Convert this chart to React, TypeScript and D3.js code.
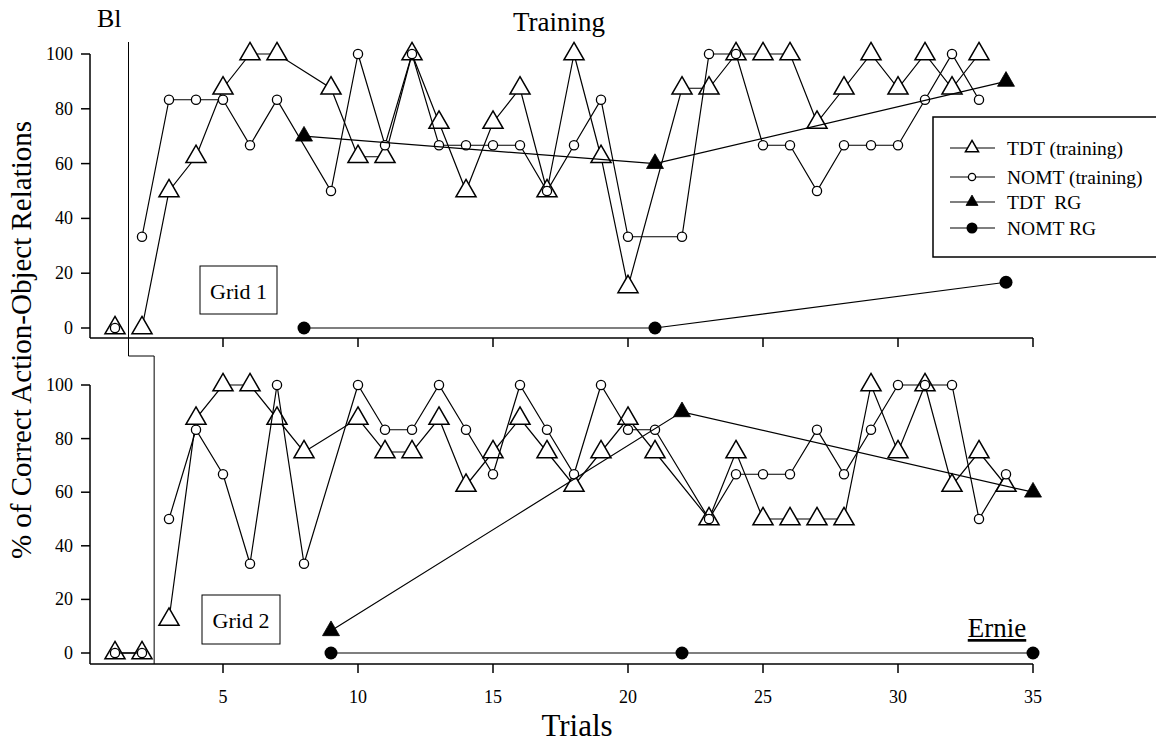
import React from "react";
import * as d3 from "d3";

// Axis ticks
const trialTicks = [5, 10, 15, 20, 25, 30, 35];
const percentTicks = [0, 20, 40, 60, 80, 100];

// Grid 1 — baseline
const grid1BaselineTrials = [1];
const grid1BaselineTDT = [0];
const grid1BaselineNOMT = [0];

// Grid 1 — training sessions
const grid1Trials = [2, 3, 4, 5, 6, 7, 9, 10, 11, 12, 13, 14, 15, 16, 17, 18, 19, 20, 22, 23, 24, 25, 26, 27, 28, 29, 30, 31, 32, 33];
const grid1TDT = [0, 50, 62.5, 87.5, 100, 100, 87.5, 62.5, 62.5, 100, 75, 50, 75, 87.5, 50, 100, 62.5, 15, 87.5, 87.5, 100, 100, 100, 75, 87.5, 100, 87.5, 100, 87.5, 100];
const grid1NOMT = [33.3, 83.3, 83.3, 83.3, 66.7, 83.3, 50, 100, 66.7, 100, 66.7, 66.7, 66.7, 66.7, 50, 66.7, 83.3, 33.3, 33.3, 100, 100, 66.7, 66.7, 50, 66.7, 66.7, 66.7, 83.3, 100, 83.3];

// Grid 1 — RG probes
const grid1ProbeTrials = [8, 21, 34];
const grid1ProbeTDT = [70, 60, 90];
const grid1ProbeNOMT = [0, 0, 16.7];

// Grid 2 — baseline
const grid2BaselineTrials = [1, 2];
const grid2BaselineTDT = [0, 0];
const grid2BaselineNOMT = [0, 0];

// Grid 2 — training sessions
const grid2Trials = [3, 4, 5, 6, 7, 8, 10, 11, 12, 13, 14, 15, 16, 17, 18, 19, 20, 21, 23, 24, 25, 26, 27, 28, 29, 30, 31, 32, 33, 34];
const grid2TDT = [12.5, 87.5, 100, 100, 87.5, 75, 87.5, 75, 75, 87.5, 62.5, 75, 87.5, 75, 62.5, 75, 87.5, 75, 50, 75, 50, 50, 50, 50, 100, 75, 100, 62.5, 75, 62.5];
const grid2NOMT = [50, 83.3, 66.7, 33.3, 100, 33.3, 100, 83.3, 83.3, 100, 83.3, 66.7, 100, 83.3, 66.7, 100, 83.3, 83.3, 50, 66.7, 66.7, 66.7, 83.3, 66.7, 83.3, 100, 100, 100, 50, 66.7];

// Grid 2 — RG probes
const grid2ProbeTrials = [9, 22, 35];
const grid2ProbeTDT = [8.3, 90, 60];
const grid2ProbeNOMT = [0, 0, 0];

// Phase-change positions (between baseline and training) for each grid
const phaseChange = [1.5, 2.45];

const legendLabels = ["TDT (training)", "NOMT (training)", "TDT  RG", "NOMT RG"];

const FONT = "'Liberation Serif', 'Times New Roman', Times, serif";
const W = 1156;
const H = 746;

const x = d3.scaleLinear().domain([0, 35]).range([88, 1033]);
const yTop = d3.scaleLinear().domain([0, 100]).range([328, 54]);
const yBottom = d3.scaleLinear().domain([0, 100]).range([653, 385]);

type MarkerKind = "openTri" | "openCircle" | "filledTri" | "filledCircle";

const triPath = d3.symbol(d3.symbolTriangle, 175)() as string;
const smallTriPath = d3.symbol(d3.symbolTriangle, 125)() as string;
const legendTriPath = d3.symbol(d3.symbolTriangle, 75)() as string;
const legendSmallTriPath = d3.symbol(d3.symbolTriangle, 62)() as string;

function Marker({ kind, cx, cy, legend = false }: { kind: MarkerKind; cx: number; cy: number; legend?: boolean }) {
  const t = `translate(${cx},${cy})`;
  if (kind === "openTri")
    return <path d={legend ? legendTriPath : triPath} transform={t} fill="#fff" stroke="#000" strokeWidth={1.5} strokeLinejoin="miter" />;
  if (kind === "filledTri")
    return <path d={legend ? legendSmallTriPath : smallTriPath} transform={t} fill="#000" stroke="#000" strokeWidth={0.8} />;
  if (kind === "openCircle")
    return <circle cx={cx} cy={cy} r={legend ? 3.6 : 4.6} fill="#fff" stroke="#000" strokeWidth={1.3} />;
  return <circle cx={cx} cy={cy} r={legend ? 5.5 : 6.5} fill="#000" />;
}

function Series({ trials, values, yScale, kind }: { trials: number[]; values: number[]; yScale: d3.ScaleLinear<number, number>; kind: MarkerKind }) {
  const pts: [number, number][] = trials.map((t, i) => [x(t), yScale(values[i])]);
  const d = d3.line()(pts) as string;
  return (
    <g>
      {pts.length > 1 && <path d={d} fill="none" stroke="#000" strokeWidth={1.2} />}
      {pts.map((p, i) => (
        <Marker key={i} kind={kind} cx={p[0]} cy={p[1]} />
      ))}
    </g>
  );
}

function Axes({ yScale, axisY, labels }: { yScale: d3.ScaleLinear<number, number>; axisY: number; labels: boolean }) {
  const axisX = 90;
  return (
    <g stroke="#000" strokeWidth={1.5} fontFamily={FONT}>
      <line x1={axisX} x2={axisX} y1={yScale(100)} y2={axisY} />
      <line x1={axisX} x2={x(35)} y1={axisY} y2={axisY} />
      {percentTicks.map((v) => (
        <g key={v}>
          <line x1={axisX - 9} x2={axisX} y1={yScale(v)} y2={yScale(v)} />
          <text x={73} y={yScale(v) + 6} textAnchor="end" fontSize={18} stroke="none" fill="#000">
            {v}
          </text>
        </g>
      ))}
      {trialTicks.map((t) => (
        <g key={t}>
          <line x1={x(t)} x2={x(t)} y1={axisY} y2={axisY + 9} />
          {labels && (
            <text x={x(t)} y={703} textAnchor="middle" fontSize={18} stroke="none" fill="#000">
              {t}
            </text>
          )}
        </g>
      ))}
    </g>
  );
}

export default function App() {
  const legendRows = [148, 177, 202, 228];
  const legendKinds: MarkerKind[] = ["openTri", "openCircle", "filledTri", "filledCircle"];
  return (
    <svg
      width={W}
      height={H}
      viewBox={`0 0 ${W} ${H}`}
      style={{ position: "absolute", left: 0, top: 0, background: "#fff" }}
      fontFamily={FONT}
    >
      <rect x={0} y={0} width={W} height={H} fill="#fff" />

      {/* Grid 1 panel */}
      <Axes yScale={yTop} axisY={338} labels={false} />
      <Series trials={grid1BaselineTrials} values={grid1BaselineTDT} yScale={yTop} kind="openTri" />
      <Series trials={grid1BaselineTrials} values={grid1BaselineNOMT} yScale={yTop} kind="openCircle" />
      <Series trials={grid1Trials} values={grid1TDT} yScale={yTop} kind="openTri" />
      <Series trials={grid1Trials} values={grid1NOMT} yScale={yTop} kind="openCircle" />
      <Series trials={grid1ProbeTrials} values={grid1ProbeTDT} yScale={yTop} kind="filledTri" />
      <Series trials={grid1ProbeTrials} values={grid1ProbeNOMT} yScale={yTop} kind="filledCircle" />

      {/* Grid 2 panel */}
      <Axes yScale={yBottom} axisY={664} labels={true} />
      <Series trials={grid2BaselineTrials} values={grid2BaselineTDT} yScale={yBottom} kind="openTri" />
      <Series trials={grid2BaselineTrials} values={grid2BaselineNOMT} yScale={yBottom} kind="openCircle" />
      <Series trials={grid2Trials} values={grid2TDT} yScale={yBottom} kind="openTri" />
      <Series trials={grid2Trials} values={grid2NOMT} yScale={yBottom} kind="openCircle" />
      <Series trials={grid2ProbeTrials} values={grid2ProbeTDT} yScale={yBottom} kind="filledTri" />
      <Series trials={grid2ProbeTrials} values={grid2ProbeNOMT} yScale={yBottom} kind="filledCircle" />

      {/* Phase-change line */}
      <path
        d={`M${x(phaseChange[0])},42 V356 H${x(phaseChange[1])} V664`}
        fill="none"
        stroke="#000"
        strokeWidth={1}
      />

      {/* Panel labels */}
      <rect x={200} y={266} width={77} height={48} fill="#fff" stroke="#000" strokeWidth={1} />
      <text x={238.5} y={299} textAnchor="middle" fontSize={22}>Grid 1</text>
      <rect x={202} y={595} width={78} height={49} fill="#fff" stroke="#000" strokeWidth={1} />
      <text x={241} y={628} textAnchor="middle" fontSize={22}>Grid 2</text>

      <text x={97} y={27} fontSize={26}>Bl</text>
      <text x={559} y={31} textAnchor="middle" fontSize={27}>Training</text>
      <text x={997} y={637} textAnchor="middle" fontSize={27} textDecoration="underline">Ernie</text>

      {/* Axis titles */}
      <text transform="translate(31,340) rotate(-90)" textAnchor="middle" fontSize={29}>
        % of Correct Action-Object Relations
      </text>
      <text x={577} y={736} textAnchor="middle" fontSize={31}>Trials</text>

      {/* Legend */}
      <rect x={933} y={117} width={240} height={140} fill="#fff" stroke="#000" strokeWidth={1.5} />
      {legendLabels.map((label, i) => (
        <g key={label}>
          <line x1={950} x2={995} y1={legendRows[i]} y2={legendRows[i]} stroke="#000" strokeWidth={1.2} />
          <Marker kind={legendKinds[i]} cx={972} cy={legendRows[i]} legend />
          <text x={1007} y={legendRows[i] + 7} fontSize={19.5} style={{ whiteSpace: "pre" }}>
            {label}
          </text>
        </g>
      ))}
    </svg>
  );
}
